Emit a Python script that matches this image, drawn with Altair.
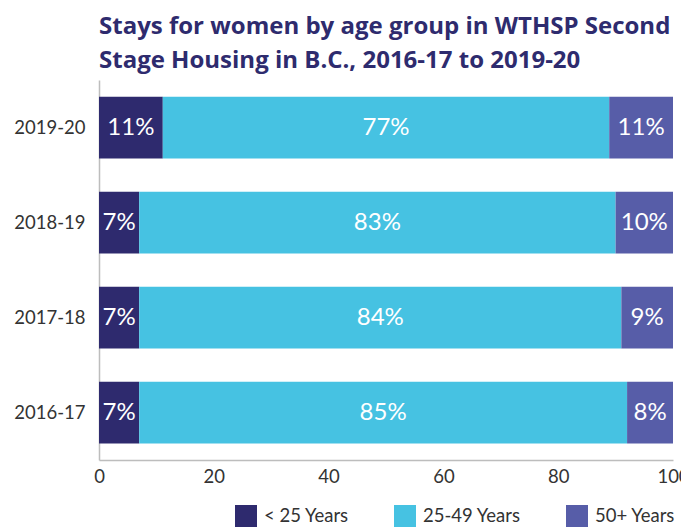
import altair as alt
import pandas as pd

years = ["2019-20", "2018-19", "2017-18", "2016-17"]
groups = ["< 25 Years", "25-49 Years", "50+ Years"]
under25 = [11, 7, 7, 7]
mid25_49 = [77, 83, 84, 85]
over50 = [11, 10, 9, 8]
colors = ["#2e2a6e", "#46c2e2", "#575da8"]
x_ticks = [0, 20, 40, 60, 80, 100]

rows = []
for i, y in enumerate(years):
    for j, (g, vals) in enumerate(zip(groups, [under25, mid25_49, over50])):
        rows.append({"year": y, "group": g, "order": j, "value": vals[i]})
df = pd.DataFrame(rows)

FONT = "Lato"

base = alt.Chart(df).transform_stack(
    stack="value", groupby=["year"], sort=[alt.SortField("order", "ascending")],
    offset="normalize", as_=["s0", "s1"]
).transform_calculate(
    x0="datum.s0*100", x1="datum.s1*100", xm="(datum.s0+datum.s1)*50",
    lbl="datum.value + '%'"
)

yenc = alt.Y("year:N", sort=years, title=None,
             scale=alt.Scale(paddingInner=0.35, paddingOuter=0.175),
             axis=alt.Axis(ticks=False, domainColor="#bdbdbd", domainWidth=1.5,
                           labelFontSize=18.5, labelColor="#333333", labelFont=FONT,
                           labelPadding=14))

bars = base.mark_bar().encode(
    x=alt.X("x0:Q", title=None, scale=alt.Scale(domain=[0, 100], nice=False),
            axis=alt.Axis(values=x_ticks, ticks=False, grid=False, domainColor="#bdbdbd",
                          domainWidth=1.5, labelFontSize=18.5, labelColor="#333333",
                          labelFont=FONT, labelPadding=7, labelFlush=False)),
    x2="x1:Q",
    y=yenc,
    color=alt.Color("group:N", scale=alt.Scale(domain=groups, range=colors),
                    legend=alt.Legend(title=None, orient="none", direction="horizontal",
                                      legendX=136, legendY=425, symbolType="square",
                                      symbolSize=484, symbolStrokeWidth=0, symbolOpacity=1,
                                      labelFontSize=18.5, labelColor="#333333", labelFont=FONT,
                                      labelOffset=7, columnPadding=45)),
)

texts = base.mark_text(color="white", fontSize=24, font=FONT, baseline="middle").encode(
    x="xm:Q", y=alt.Y("year:N", sort=years), text="lbl:N"
)

chart = (bars + texts).properties(
    width=574, height=380,
    autosize="none",
    padding={"left": 91, "top": 72, "right": 8, "bottom": 68},
    title=alt.TitleParams(
        ["Stays for women by age group in WTHSP Second", "Stage Housing in B.C., 2016-17 to 2019-20"],
        anchor="start", frame="group", font="Open Sans", fontSize=24, fontWeight="bold",
        color="#2e2b6e", lineHeight=34, offset=7,
    ),
).configure_view(stroke=None)

chart.save("out.html", embed_options={"renderer": "svg", "actions": False})
